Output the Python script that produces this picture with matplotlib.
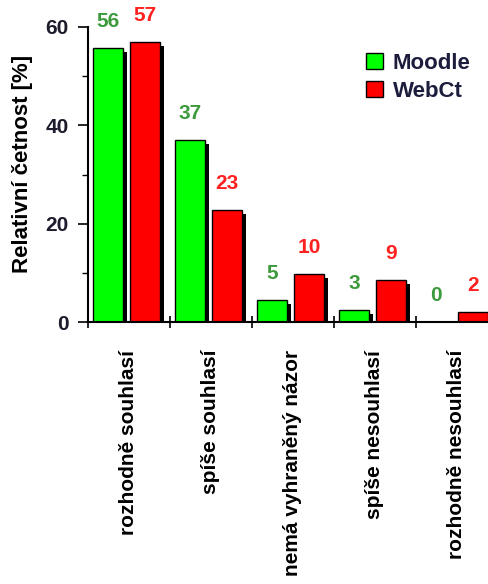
import matplotlib
matplotlib.use("Agg")
import matplotlib.pyplot as plt
import matplotlib.patheffects as pe
import numpy as np

categories = ["rozhodně souhlasí", "spíše souhlasí", "nemá vyhraněný názor",
              "spíše nesouhlasí", "rozhodně nesouhlasí"]
moodle = [55.7, 37.0, 4.5, 2.4, 0.0]
webct = [56.9, 22.8, 9.8, 8.5, 2.0]
moodle_labels = ["56", "37", "5", "3", "0"]
webct_labels = ["57", "23", "10", "9", "2"]
ylabel = "Relativní četnost [%]"
yticks = [0, 20, 40, 60]

plt.rcParams['font.family'] = ['Liberation Sans', 'DejaVu Sans']
plt.rcParams['font.weight'] = 'bold'

fig = plt.figure(figsize=(4.89, 5.84), dpi=100)
ax = fig.add_axes([88/489, 1-322/584, 410/489, 295/584])

x = np.arange(len(categories))
w = 0.37
shadow = [pe.SimplePatchShadow(offset=(3, -3), shadow_rgbFace='black', alpha=1.0), pe.Normal()]
b1 = ax.bar(x + 0.06, moodle, width=w, align='edge', color='#00FF00', edgecolor='black',
            linewidth=1.0, label='Moodle', path_effects=shadow)
b2 = ax.bar(x + 0.51, webct, width=w, align='edge', color='#FF0000', edgecolor='black',
            linewidth=1.0, label='WebCt', path_effects=shadow)

for i in range(len(categories)):
    ax.annotate(moodle_labels[i], (x[i] + 0.06 + w/2, moodle[i]), xytext=(0, 19),
                textcoords='offset points', ha='center', va='center', fontsize=15,
                fontweight='bold', color='#3C9A3C')
    ax.annotate(webct_labels[i], (x[i] + 0.51 + w/2, webct[i]), xytext=(0, 19),
                textcoords='offset points', ha='center', va='center', fontsize=15,
                fontweight='bold', color='#FF2020')

ax.set_xlim(0, 5)
ax.set_ylim(0, 60)
ax.set_yticks(yticks)
ax.set_yticks([10, 30, 50], minor=True)
ax.tick_params(axis='y', which='major', direction='out', length=7, width=1.2,
               labelsize=15, colors='black', labelcolor='#1c1c2c', pad=7)
ax.tick_params(axis='y', which='minor', direction='out', length=4, width=1.0)
for t in ax.get_yticklabels():
    t.set_fontweight('bold')
ax.set_xticks(np.arange(0, 6))
ax.set_xticklabels([])
ax.tick_params(axis='x', which='major', direction='inout', length=9, width=1.2)
ax.set_xticks(x + 0.5, minor=True)
ax.set_xticklabels(categories, minor=True, rotation=90, ha='center', va='top')
ax.tick_params(axis='x', which='minor', length=0, pad=20)
for t in ax.get_xticklabels(minor=True):
    t.set_fontweight('bold')
    t.set_fontsize(15)
    t.set_color('black')

for s in ['top', 'right']:
    ax.spines[s].set_visible(False)
for s in ['left', 'bottom']:
    ax.spines[s].set_linewidth(1.5)

ax.set_ylabel(ylabel, fontsize=16, fontweight='bold')
ax.yaxis.set_label_coords(-0.134, 0.535)

leg = ax.legend(loc='upper left', bbox_to_anchor=(0.63, 0.98), frameon=False,
                handlelength=0.75, handleheight=0.75, handletextpad=0.45,
                labelspacing=0.3, prop={'weight': 'bold', 'size': 16})
for h in leg.legend_handles:
    h.set_path_effects([])
for t in leg.get_texts():
    t.set_color('#1c1c3c')

fig.savefig('out.png', dpi=100)
